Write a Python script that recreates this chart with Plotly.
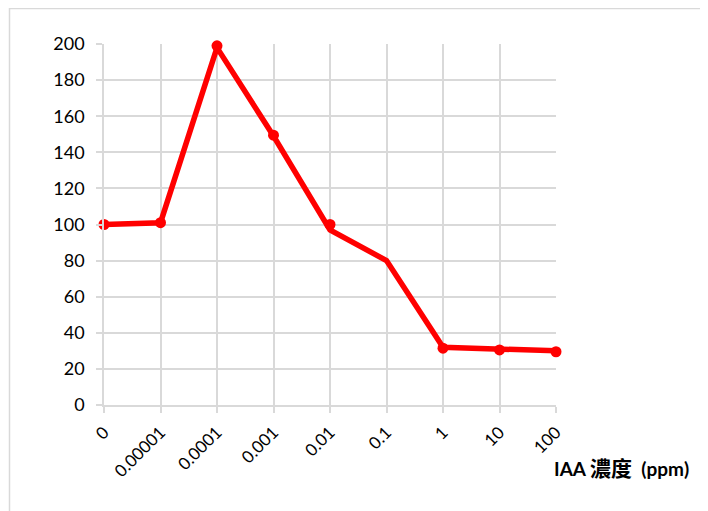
import plotly.graph_objects as go

categories = ["0", "0.00001", "0.0001", "0.001", "0.01", "0.1", "1", "10", "100"]
line_values = [100, 101, 198, 149, 97, 80, 32, 31, 30]
marker_values = [100, 101, 199, 149.5, 100, None, 31.5, 30.5, 29.5]
y_ticks = [0, 20, 40, 60, 80, 100, 120, 140, 160, 180, 200]
title_latin = "IAA"
title_cjk = "濃度"
title_unit = "(ppm)"

# page has an 8px body margin, so the figure sits at (8, 8)
OFF = 8
W, H = 708 - OFF, 511 - OFF
L, T = 104 - OFF, 44 - OFF
R = W - (556 - OFF)
B = H - (405 - OFF)
pw, ph = W - L - R, H - T - B

fig = go.Figure()
fig.add_trace(go.Scatter(x=categories, y=line_values, mode="lines", cliponaxis=False,
                         line=dict(color="#ff0000", width=5.5), hoverinfo="skip"))
fig.add_trace(go.Scatter(x=categories, y=marker_values, mode="markers", cliponaxis=False,
                         marker=dict(color="#ff0000", size=11), hoverinfo="skip"))

grid = "#d9d9d9"
font_family = "Lato, 'Noto Sans', sans-serif"
title_text = ("<b>" + title_latin + "\u00a0<span style='font-size:21px'>" + title_cjk
              + "</span>\u00a0\u00a0" + title_unit + "</b>")
fig.update_layout(
    width=W, height=H,
    margin=dict(l=L, r=R, t=T, b=B, autoexpand=False),
    paper_bgcolor="white", plot_bgcolor="white",
    showlegend=False,
    font=dict(family=font_family, color="#000000", size=18),
    xaxis=dict(type="category", range=[0, 8], showgrid=True, gridcolor=grid, gridwidth=1.5,
               showline=True, linecolor=grid, linewidth=1.5,
               ticks="outside", ticklen=6, tickcolor=grid, tickwidth=1.5,
               tickangle=-45, tickfont=dict(size=17), ticklabelstandoff=3,
               zeroline=False, automargin=False),
    yaxis=dict(range=[0, 200], tickvals=y_ticks, showgrid=True, gridcolor=grid, gridwidth=1.5,
               showline=True, linecolor=grid, linewidth=1.5,
               ticks="outside", ticklen=6, tickcolor=grid, tickwidth=1.5,
               tickfont=dict(size=18), ticklabelstandoff=8, zeroline=False, automargin=False),
    shapes=[dict(type="rect", xref="paper", yref="paper",
                 x0=(9.5 - 104) / pw, x1=(708 + 20 - 104) / pw,
                 y0=-(511 + 20 - 405) / ph, y1=1 + (44 - 8.5) / ph,
                 line=dict(color=grid, width=1.5), layer="below")],
    annotations=[dict(text=title_text, xref="paper", yref="paper",
                      x=(552 - 104) / pw, y=(405 - 468) / ph, xanchor="left", yanchor="middle",
                      showarrow=False,
                      font=dict(size=19, family="Lato, 'Noto Sans CJK TC', sans-serif"))],
)

fig.write_html("out.html")
